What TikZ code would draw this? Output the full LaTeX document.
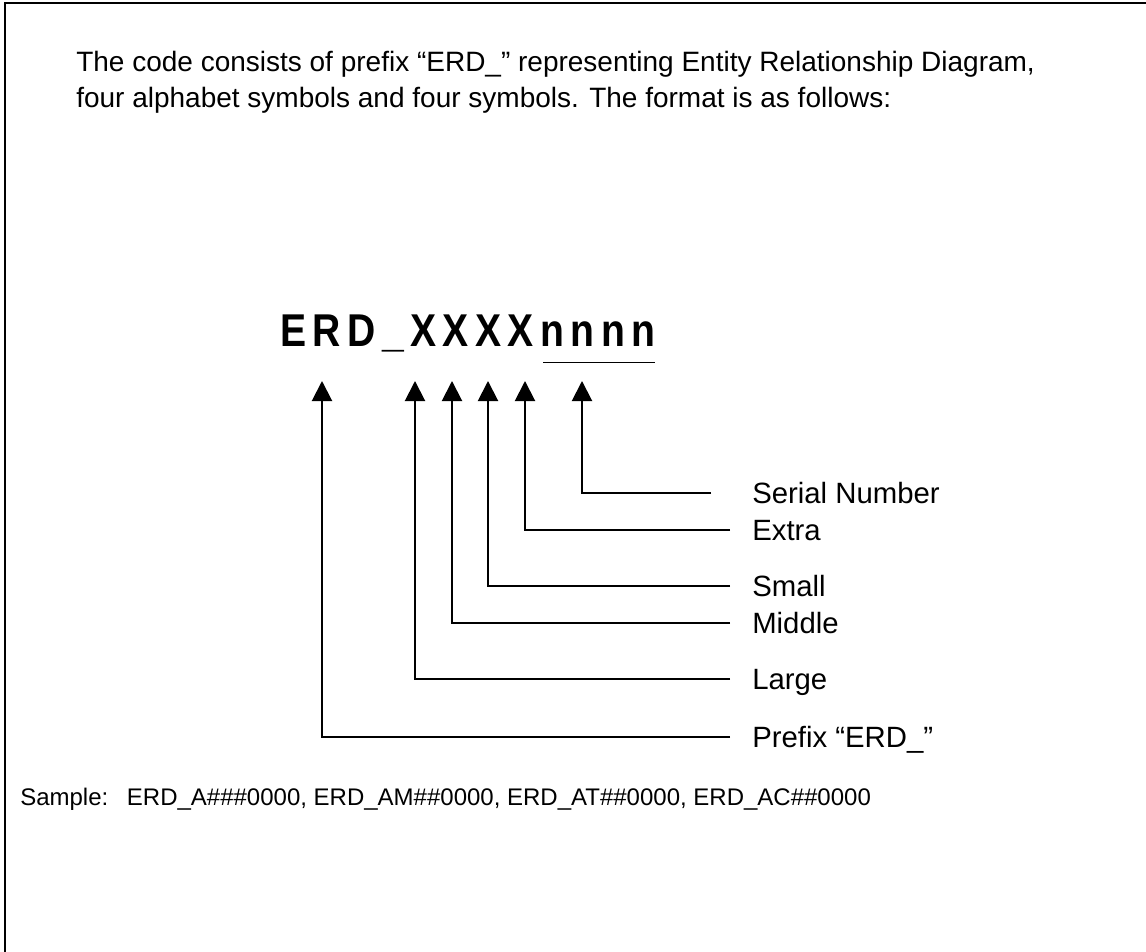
\documentclass[tikz,border=0pt]{standalone}
\usepackage{fontspec}
\setmainfont{Liberation Sans}
\newfontfamily\codefont[FakeStretch=0.85,LetterSpace=14]{Liberation Sans}
\usetikzlibrary{arrows.meta}

\tikzset{
  txt/.style = {anchor=base west, inner sep=0pt, font=\fontsize{21}{25}\selectfont},
  lbl/.style = {anchor=west, inner sep=0pt, text height=15.8pt, text depth=0pt,
                font=\fontsize{22}{26}\selectfont},
  arr/.style = {line width=1.5pt, -{Triangle[length=15pt,width=15pt]}}
}

\begin{document}
\begin{tikzpicture}[x=0.75pt, y=-0.75pt]

\useasboundingbox (0,0) rectangle (1146,952);
\draw[line width=1.5pt] (5,952) -- (5,3) -- (1146,3);

\node[txt] (line1) at (76,72) {The code consists of prefix “ERD\_” representing Entity Relationship Diagram,};
\node[txt] (line2) at (76,108) {four alphabet symbols and four symbols. The format is as follows:};

\node[anchor=base west, inner sep=0pt, font=\codefont\bfseries\fontsize{34.5}{40}\selectfont] (code) at (280,346) {ERD\_XXXXnnnn};
\draw[line width=0.75pt] (543,362) -- (655,362);

\foreach \n/\x in {p/322,l/415,m/452,s/488,e/525,n/582} {\coordinate (t\n) at (\x,381);}

\foreach \n/\y/\t/\g in {n/493/Serial Number/41, e/530/Extra/22, s/586/Small/22, m/623/Middle/22, l/679/Large/22, p/737/Prefix “ERD\_”/22} {
  \node[lbl] (lab\n) at (752,\y) {\t};
  \draw[arr] ([xshift=-\g*0.75pt]lab\n.west) -| (t\n);
}

\node[anchor=base west, inner sep=0pt, font=\fontsize{18}{22}\selectfont] (sample) at (20,805) {Sample:\hspace{14pt}ERD\_A\#\#\#0000, ERD\_AM\#\#0000, ERD\_AT\#\#0000, ERD\_AC\#\#0000};

\end{tikzpicture}
\end{document}
